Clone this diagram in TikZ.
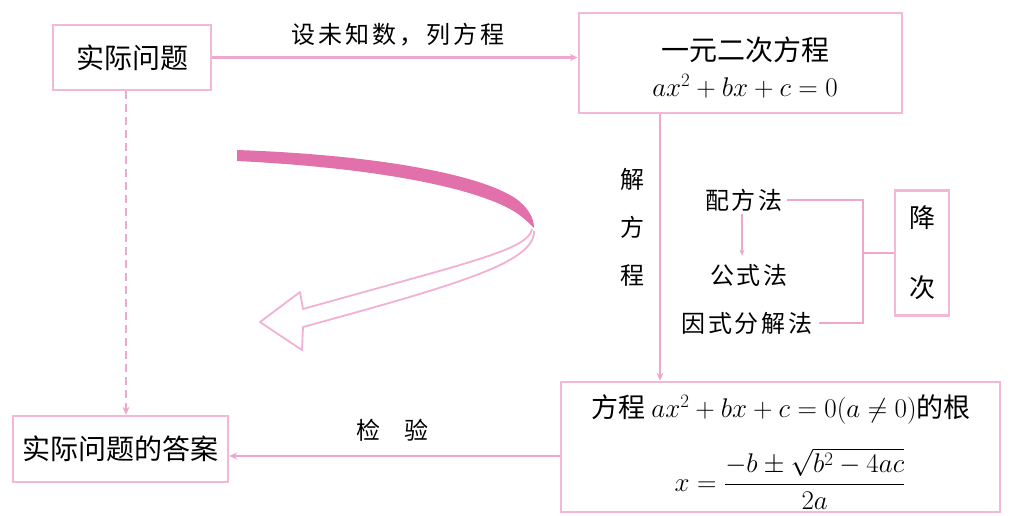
\RequirePackage{fix-cm}
\documentclass[tikz,border=0pt]{standalone}
\usepackage{amsmath}
\usepackage{fontspec}
\newfontfamily\cjk{Noto Sans CJK SC}
\newfontfamily\cjkl[LetterSpace=12]{Noto Sans CJK SC}
\usetikzlibrary{arrows.meta}
\definecolor{boxpink}{RGB}{243,184,214}
\definecolor{linepink}{RGB}{239,168,205}
\definecolor{thickpink}{RGB}{226,112,170}
\definecolor{hollowpink}{RGB}{242,176,210}
\begin{document}
\begin{tikzpicture}[x=1pt,y=-1pt,
  box/.style={draw=boxpink, line width=2.5pt, inner sep=0pt},
  conn/.style={draw=linepink, line width=2.2pt},
  arr/.style={conn, -{Stealth[length=8pt,width=7pt]}},
  arrsmall/.style={draw=linepink, line width=1.6pt, -{Stealth[length=6pt,width=5pt]}},
  boxtext/.style={font=\cjk\fontsize{28}{32}\selectfont},
  lbl/.style={font=\cjkl\fontsize{24}{28}\selectfont, inner sep=0pt},
  mth/.style={font=\cjk\fontsize{27}{32}\selectfont, inner sep=0pt}]
\useasboundingbox (0,0) rectangle (1011,515);

% boxes
\node[box, boxtext, minimum width=158pt, minimum height=65pt] (A) at (132,57.5) {实际问题};
\node[box, minimum width=323pt, minimum height=100pt] (B) at (740.5,63) {};
\node[boxtext, inner sep=0pt] (B1) at (745,50) {一元二次方程};
\node[mth] (B2) at (745,86) {$ax^2+bx+c=0$};
\node[box, boxtext, minimum width=215pt, minimum height=66pt] (D) at (120.5,449) {实际问题的答案};
\node[box, minimum width=439pt, minimum height=130pt] (E) at (780.5,447) {};
\node[mth] (E1) at (781,409) {方程 $ax^2+bx+c=0(a\neq 0)$的根};
\node[mth] (E2) at (790,479) {$x=\dfrac{-b\pm\sqrt{b^2-4ac}}{2a}$};
\node[box, minimum width=54pt, minimum height=125pt, align=center,
      font=\cjk\fontsize{26}{70}\selectfont] (J) at (922,253) {降\\次};

% labels
\node[lbl] (L1) at (398,35) {设未知数，列方程};
\node[lbl, align=center, font=\cjk\fontsize{24}{48}\selectfont] (L2) at (632,227) {解\\方\\程};
\node[lbl] (M1) at (744,200) {配方法};
\node[lbl] (M2) at (749,275) {公式法};
\node[lbl] (M3) at (747,323) {因式分解法};
\node[lbl, font=\cjk\fontsize{24}{28}\selectfont] (L3) at (392,430) {检\hspace{1em}验};

% connectors
\coordinate (jx) at (660,0);
\coordinate (ky) at (0,456);
\coordinate (dx) at (126,0);
\coordinate (br) at (863,0);
\draw[arr] (A.east) -- (A.east -| B.west);
\draw[arr] (B.south -| jx) -- (E.north -| jx);
\draw[arr] (E.west |- ky) -- (D.east |- ky);
\draw[arr, dash pattern=on 8pt off 5pt] (A.south -| dx) -- (D.north -| dx);
\draw[arrsmall, shorten <=3pt, shorten >=8pt] (M1.south -| 742,0) -- (M2.north -| 742,0);
\draw[conn, shorten <=4pt] (M1.east) -- (M1.east -| br) |- ([xshift=6pt]M3.east);
\draw[conn] (J.west -| br) -- (J.west);

% big curved arrow
\fill[thickpink] (237,150) .. controls (380,155) and (480,175) .. (515,198)
  .. controls (528,207) and (534,218) .. (534,228)
  .. controls (528,222) and (520,214) .. (508,208)
  .. controls (470,188) and (380,168) .. (237,161) -- cycle;
\draw[hollowpink, line width=1.8pt, line join=round]
  (532,229) .. controls (528,250) and (470,262) .. (303,309)
  -- (300,292) -- (260,322) -- (302,350) -- (303,327)
  .. controls (460,284) and (535,262) .. (534,231);
\end{tikzpicture}
\end{document}
